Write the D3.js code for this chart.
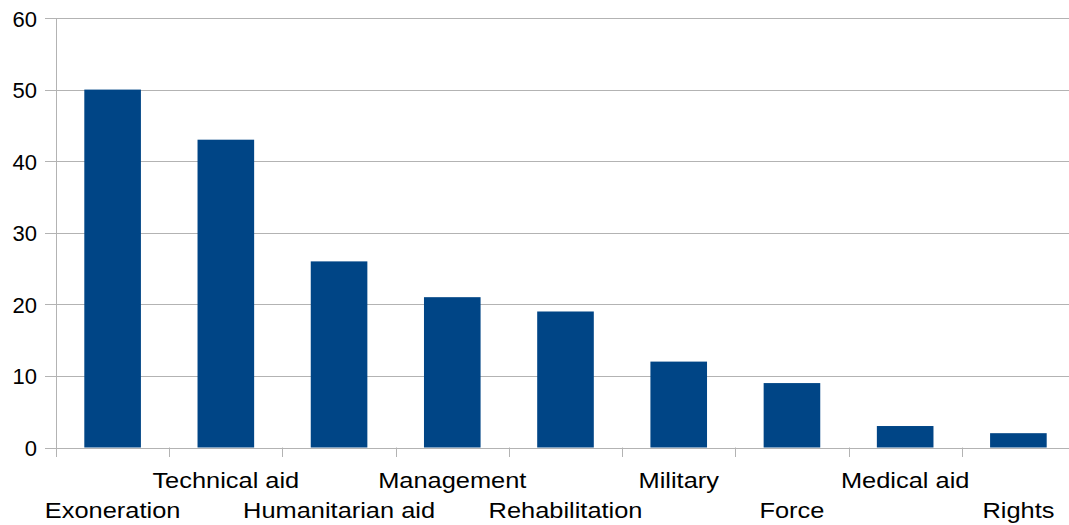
<!DOCTYPE html>
<html><head><meta charset="utf-8">
<script src="https://cdn.jsdelivr.net/npm/d3@7"></script>
<style>body{margin:0;background:#fff}svg{display:block}text{font-family:"Liberation Sans",Arial,sans-serif;fill:#000}</style>
</head><body><svg id="c" width="1069" height="525"></svg>
<script>
const categories = ["Exoneration","Technical aid","Humanitarian aid","Management","Rehabilitation","Military","Force","Medical aid","Rights"];
const values = [50,43,26,21,19,12,9,3,2];
const yTicks = [0,10,20,30,40,50,60];

(function(){
const svg = d3.select("#c");
const pLeft = 56, pRight = 1075, pTop = 18, pBottom = 447.5;
const x = d3.scaleBand().domain(categories).range([pLeft,pRight]).paddingInner(0.5).paddingOuter(0.25);
const y = d3.scaleLinear().domain([0,60]).range([pBottom,pTop]);
const step = (pRight-pLeft)/categories.length;

// gridlines
svg.append("g").selectAll("line").data(yTicks).join("line")
  .attr("x1",45).attr("x2",1069).attr("y1",d=>Math.round(y(d))+0.5).attr("y2",d=>Math.round(y(d))+0.5)
  .attr("stroke","#b3b3b3").attr("stroke-width",1);
// y axis line
svg.append("line").attr("x1",pLeft+0.5).attr("x2",pLeft+0.5).attr("y1",pTop).attr("y2",457)
  .attr("stroke","#b3b3b3");
// x ticks at band edges
svg.append("g").selectAll("line").data(d3.range(categories.length+1)).join("line")
  .attr("x1",i=>Math.round(pLeft+i*step)+0.5).attr("x2",i=>Math.round(pLeft+i*step)+0.5)
  .attr("y1",pBottom).attr("y2",457).attr("stroke","#b3b3b3");
// y labels
svg.append("g").selectAll("text").data(yTicks).join("text")
  .attr("x",37).attr("y",d=>y(d)+8.5).attr("text-anchor","end").attr("font-size",22).text(d=>d);
// bars
svg.append("g").selectAll("rect").data(values).join("rect")
  .attr("x",(d,i)=>x(categories[i])).attr("width",x.bandwidth())
  .attr("y",d=>y(d)).attr("height",d=>y(0)-y(d)).attr("fill","#004586");
// x labels staggered
svg.append("g").selectAll("text").data(categories).join("text")
  .attr("transform",(d,i)=>`translate(${x(d)+x.bandwidth()/2},${i%2===0?518:488}) scale(1.155,1)`)
  .attr("text-anchor","middle").attr("font-size",22).text(d=>d);
})();
</script></body></html>
